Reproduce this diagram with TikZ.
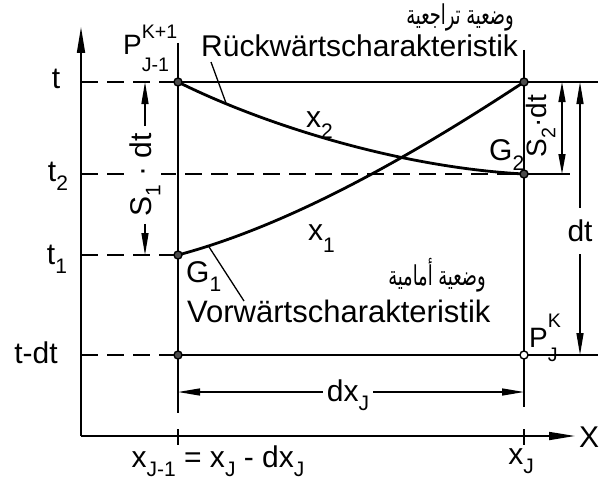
\documentclass[tikz,border=0pt]{standalone}
\usepackage{fontspec}
\setmainfont{Liberation Sans}
\newfontfamily\arabicfont[Script=Arabic]{DejaVu Sans}
\TeXXeTstate=1
\usepackage{graphicx}
\usetikzlibrary{arrows.meta,positioning,calc}
\newcommand\lo[2][0.3em]{\raisebox{-#1}{\scalebox{0.7}{#2}}}
\newcommand\hi[2][0.5em]{\raisebox{#1}{\scalebox{0.7}{#2}}}
\newcommand\artxt[1]{\scalebox{0.85}[1.3]{\beginR #1\endR}}

\begin{document}
\begin{tikzpicture}[x=1pt, y=-1pt,
    lbl/.style={font=\fontsize{30}{34}\selectfont, inner sep=1pt},
    txt/.style={lbl, anchor=base west},
    arab/.style={font=\arabicfont\fontsize{21}{24}\selectfont, inner sep=1pt},
    dot/.style={circle, draw, line width=1.4pt, fill=black!70, inner sep=0pt, minimum size=8pt},
    axis/.style={line width=1.7pt, -{Triangle[length=26pt,width=8pt]}},
    thin/.style={line width=1.7pt},
    dsh/.style={line width=1.7pt, dash pattern=on 17pt off 9pt},
    charac/.style={line width=2.8pt},
    arr/.style={line width=1.4pt, -{Triangle[length=22pt,width=7pt]}},
    arrs/.style={line width=1.4pt, {Triangle[length=20pt,width=7pt]}-{Triangle[length=20pt,width=7pt]}},
    lead/.style={line width=1.3pt}
]
\useasboundingbox (0,0) rectangle (601,484);

\coordinate (O) at (81,436);
\coordinate (ytip) at (81,27);
\coordinate (xtip) at (575,436);
\coordinate (P) at (178,82);
\coordinate (R) at (524,82);
\coordinate (G1) at (178,255);
\coordinate (G2) at (524,174);
\coordinate (L) at (178,355);
\coordinate (Q) at (524,355);
\coordinate (Ltop) at (178,43);
\coordinate (Lbot) at (178,413);
\coordinate (Rtop) at (524,50);
\coordinate (Rbot) at (524,407);
\coordinate (tE) at (598,82);
\coordinate (t2E) at (570,174);
\coordinate (tdE) at (598,355);
\coordinate (s2t) at (562,82);
\coordinate (dxl) at (178,392);
\coordinate (dxr) at (524,392);
\coordinate (rl) at (211,62);
\coordinate (vl) at (244,301);

\draw[axis] (O) -- (ytip);
\draw[axis] (O) -- (xtip);
\draw[thin] (Ltop) -- (Lbot);
\draw[thin] (Rtop) -- (Rbot);
\draw[thin] ($(O -| P)+(0,-7)$) -- ++(0,16);
\draw[thin] ($(O -| Q)+(0,-7)$) -- ++(0,16);

\draw[dsh] (O |- P) -- (P);
\draw[thin] (P) -- (tE);
\draw[dsh] (O |- G2) -- (G2);
\draw[thin] (G2) -- (t2E);
\draw[dsh] (O |- G1) -- (G1);
\draw[dsh] (O |- L) -- (L);
\draw[thin] (L) -- (tdE);

\draw[charac] (P) .. controls (258,122) and (394,167) .. (G2) coordinate[pos=0.18] (c2);
\draw[charac] (G1) .. controls (290,225) and (410,157) .. (R) coordinate[pos=0.09] (c1);

\node[lbl] (tl) at (56,79) {t};
\node[lbl] (t2l) at (58,176) {t\lo{2}};
\node[lbl] (t1l) at (57,259) {t\lo{1}};
\node[lbl] (tdl) at (36,353) {t-dt};

\node[lbl, fill=white, rotate=90, inner xsep=7pt] (s1) at (145,175) {S\lo{1} · dt};
\draw[arr] (s1.east) -- (s1.east |- P);
\draw[arr] (s1.west) -- (s1.west |- G1);

\node[lbl, rotate=90, font=\fontsize{28}{30}\selectfont] (s2) at (541,126) {S\lo{2}·dt};
\draw[arrs] (s2t) -- (s2t |- G2);

\node[lbl, inner ysep=12pt] (dt) at (580,231) {dt};
\draw[arr] (dt.north) -- (dt.north |- R);
\draw[arr] (dt.south) -- (dt.south |- Q);

\node[lbl, inner xsep=4pt] (dx) at (348,395) {dx\lo{J}};
\draw[arr] (dx.west |- dxl) -- (dxl);
\draw[arr] (dx.east |- dxr) -- (dxr);

\node[lbl] (xl) at (589,437) {X};
\node[lbl] (xjm) at (218,461) {x\lo{J-1} = x\lo{J} - dx\lo{J}};
\node[lbl] (xj) at (521,461) {x\lo{J}};

\node[txt] (rueck) at (200,57) {Rückwärtscharakteristik};
\node[txt, font=\fontsize{31}{34}\selectfont] (vor) at (186,322) {Vorwärtscharakteristik};
\node[arab] (arb) at (460,17) {\artxt{وضعية تراجعية}};
\node[arab] (arf) at (437,275) {\artxt{وضعية أمامية}};
\node[txt, font=\fontsize{28}{30}\selectfont] (Pl) at (122,55) {P\rlap{\hi[0.6em]{K+1}}\lo[0.6em]{J-1}};
\node[txt, font=\fontsize{28}{30}\selectfont] (Ql) at (528,347) {P\rlap{\hi[0.7em]{K}}\lo[0.5em]{J}};
\node[txt] (G1l) at (185,282) {G\lo{1}};
\node[txt] (G2l) at (488,160) {G\lo[0.35em]{2}};
\node[txt] (x2l) at (305,127) {x\lo[0.4em]{2}};
\node[txt] (x1l) at (307,240) {x\lo[0.4em]{1}};

\draw[lead] (rl) -- (c2);
\draw[lead] (c1) -- (vl);

\foreach \p in {P,R,G1,G2,L} \node[dot] (d\p) at (\p) {};
\node[dot, fill=white] (dQ) at (Q) {};
\end{tikzpicture}
\end{document}
